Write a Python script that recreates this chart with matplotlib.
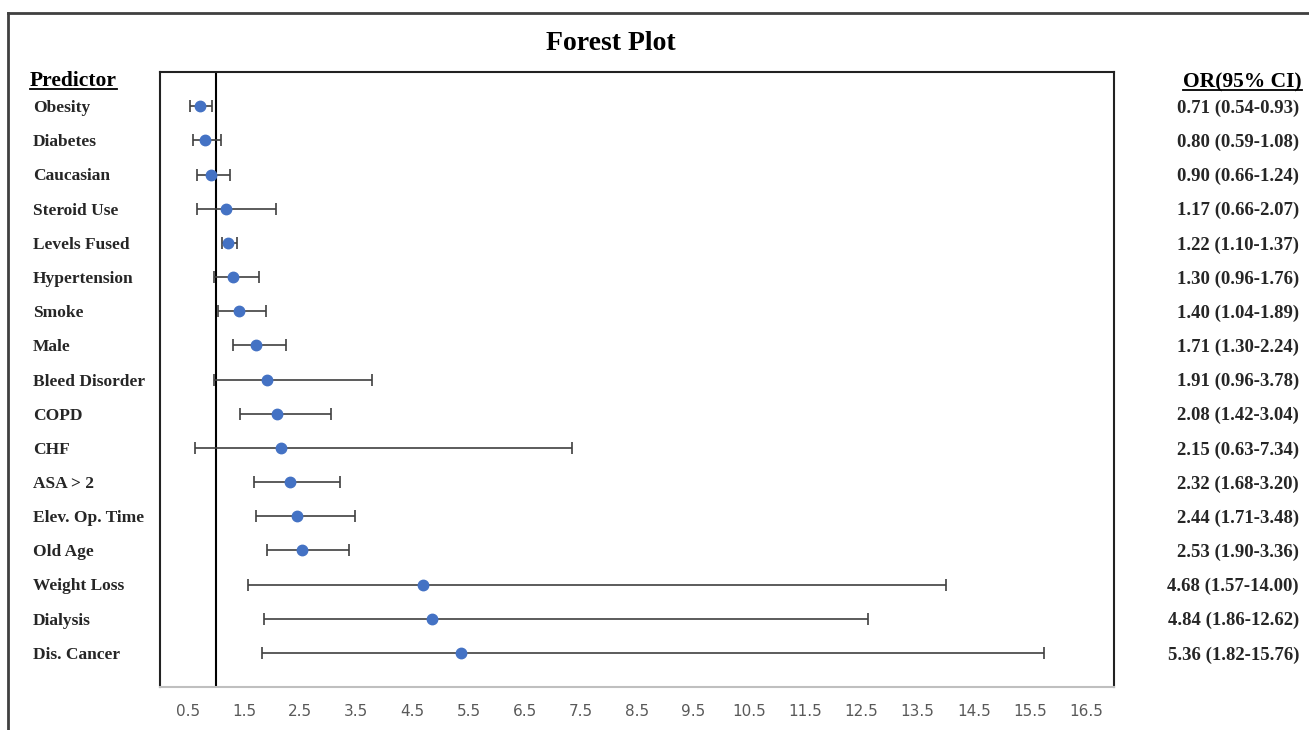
import numpy as np
import matplotlib.pyplot as plt
from matplotlib.lines import Line2D

# data
predictors = ['Obesity', 'Diabetes', 'Caucasian', 'Steroid Use', 'Levels Fused',
              'Hypertension', 'Smoke', 'Male', 'Bleed Disorder', 'COPD', 'CHF',
              'ASA > 2', 'Elev. Op. Time', 'Old Age', 'Weight Loss', 'Dialysis',
              'Dis. Cancer']
odds = [0.71, 0.80, 0.90, 1.17, 1.22, 1.30, 1.40, 1.71, 1.91, 2.08, 2.15,
        2.32, 2.44, 2.53, 4.68, 4.84, 5.36]
lower = [0.54, 0.59, 0.66, 0.66, 1.10, 0.96, 1.04, 1.30, 0.96, 1.42, 0.63,
         1.68, 1.71, 1.90, 1.57, 1.86, 1.82]
upper = [0.93, 1.08, 1.24, 2.07, 1.37, 1.76, 1.89, 2.24, 3.78, 3.04, 7.34,
         3.20, 3.48, 3.36, 14.00, 12.62, 15.76]
ticks = np.arange(0.5, 17, 1.0)

W, H = 1309, 730
fig = plt.figure(figsize=(W / 100, H / 100), dpi=100)
ax = fig.add_axes([160 / W, 1 - 687 / H, (1114 - 160) / W, (687 - 72) / H])

y = np.arange(1, len(predictors) + 1)
odds = np.array(odds)
err = [odds - np.array(lower), np.array(upper) - odds]

ax.errorbar(odds, y, xerr=err, fmt='none', ecolor='#404040', elinewidth=1.2,
            capsize=4, capthick=1.2, zorder=2)
ax.plot(odds, y, 'o', color='#4472C4', markersize=7.5, zorder=3)
ax.axvline(1.0, color='black', lw=1.5, zorder=1)

ax.set_xlim(0, 17)
ax.set_ylim(len(predictors) + 1, 0)
ax.set_yticks([])
ax.set_xticks(ticks)
ax.set_xticklabels([f'{t:.1f}' for t in ticks], color='#595959', fontsize=11)
ax.tick_params(axis='x', length=0, pad=12)
for s in ['left', 'top', 'right']:
    ax.spines[s].set_color('#222222')
    ax.spines[s].set_linewidth(1.5)
ax.spines['bottom'].set_color('#bfbfbf')
ax.spines['bottom'].set_linewidth(1.5)

txt = '#262626'
serif = 'Liberation Serif'

fig.text(611 / W, 1 - 43 / H, 'Forest Plot', ha='center', va='center',
         fontsize=20, fontweight='bold', family=serif, color='black')

# column headers
h1 = fig.text(30 / W, 1 - 86 / H, 'Predictor', ha='left', va='baseline',
              fontsize=15.5, fontweight='bold', family=serif, color='black')
h2 = fig.text(1302 / W, 1 - 87 / H, 'OR(95% CI)', ha='right', va='baseline',
              fontsize=15.5, fontweight='bold', family=serif, color='black')

for i, name in enumerate(predictors):
    yy = ax.transData.transform((0, y[i]))[1] / fig.dpi / fig.get_size_inches()[1]
    fig.text(33 / W, yy, name, ha='left', va='center_baseline', fontsize=12.5,
             fontweight='bold', family=serif, color=txt)
    fig.text(1299 / W, yy, f'{odds[i]:.2f} ({lower[i]:.2f}-{upper[i]:.2f})',
             ha='right', va='center_baseline', fontsize=13.5, fontweight='bold',
             family=serif, color=txt)

# underline the headers
fig.canvas.draw()
r = fig.canvas.get_renderer()
for h, yl in [(h1, 89), (h2, 90)]:
    bb = h.get_window_extent(r)
    fig.add_artist(Line2D([bb.x0 / W, bb.x1 / W], [1 - yl / H, 1 - yl / H],
                          color='black', lw=1.3))

# outer frame (top and left edges)
fig.add_artist(Line2D([8 / W, 1.0], [1 - 13 / H, 1 - 13 / H], color='#404040', lw=2))
fig.add_artist(Line2D([8 / W, 8 / W], [0, 1 - 13 / H], color='#404040', lw=2))

fig.savefig('out.png', dpi=100)
